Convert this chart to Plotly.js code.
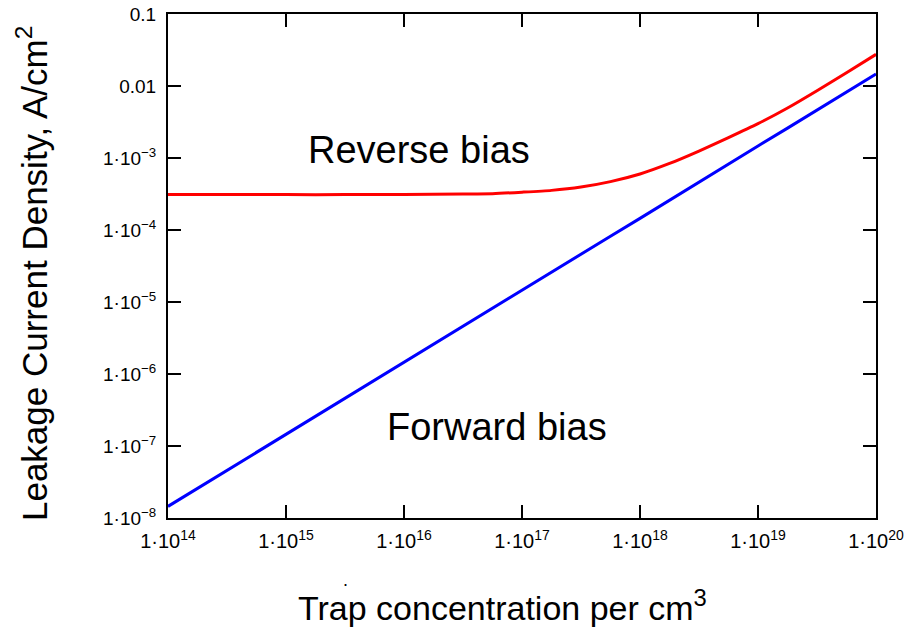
<!DOCTYPE html>
<html>
<head>
<meta charset="utf-8">
<script src="https://cdn.plot.ly/plotly-3.0.1.min.js"></script>
<style>html,body{margin:0;padding:0;background:#fff;}</style>
</head>
<body>
<div id="chart" style="width:905px;height:630px;"></div>
<script>
// Trap concentration (per cm^3)
const trapConc = [1e14, 3.16e14, 1e15, 3.16e15, 1e16, 3.16e16, 5.62e16,
                  1e17, 1.78e17, 3.16e17, 5.62e17, 1e18, 1.78e18, 3.16e18, 5.62e18,
                  1e19, 1.78e19, 3.16e19, 5.62e19, 1e20];
// Leakage current density (A/cm^2), reverse bias
const reverseJ = [3.1e-4, 3.1e-4, 3.1e-4, 3.1e-4, 3.12e-4, 3.15e-4, 3.2e-4,
                  3.35e-4, 3.55e-4, 3.95e-4, 4.7e-4, 6.0e-4, 8.4e-4, 1.25e-3, 1.92e-3,
                  3.0e-3, 4.95e-3, 8.6e-3, 1.53e-2, 2.75e-2];
// Leakage current density (A/cm^2), forward bias
const forwardJ = [1.45e-8, 4.6e-8, 1.45e-7, 4.6e-7, 1.45e-6, 4.6e-6, 8.2e-6,
                  1.45e-5, 2.6e-5, 4.6e-5, 8.2e-5, 1.45e-4, 2.6e-4, 4.6e-4, 8.2e-4,
                  1.47e-3, 2.6e-3, 4.65e-3, 8.3e-3, 1.47e-2];

const xTickVals = [1e14, 1e15, 1e16, 1e17, 1e18, 1e19, 1e20];
const xTickText = ["1·10<sup>14</sup>", "1·10<sup>15</sup>", "1·10<sup>16</sup>", "1·10<sup>17</sup>",
                   "1·10<sup>18</sup>", "1·10<sup>19</sup>", "1·10<sup>20</sup>"];
const yTickVals = [1e-8, 1e-7, 1e-6, 1e-5, 1e-4, 1e-3, 1e-2, 1e-1];
const yTickText = ["1·10<sup>−8</sup>", "1·10<sup>−7</sup>", "1·10<sup>−6</sup>", "1·10<sup>−5</sup>",
                   "1·10<sup>−4</sup>", "1·10<sup>−3</sup>", "0.01", "0.1"];

const FONT = "Liberation Sans, Arial, Helvetica, sans-serif";

const traces = [
  {x: trapConc, y: reverseJ, type: "scatter", mode: "lines", name: "Reverse bias",
   line: {color: "#ff0000", width: 3, shape: "spline", smoothing: 0.6}},
  {x: trapConc, y: forwardJ, type: "scatter", mode: "lines", name: "Forward bias",
   line: {color: "#0000ff", width: 3}}
];

const axisCommon = {
  type: "log", showgrid: false, zeroline: false,
  showline: true, linecolor: "#000", linewidth: 2, mirror: "ticks",
  ticks: "inside", ticklen: 13, tickwidth: 2, tickcolor: "#000",
  tickmode: "array"
};

const layout = {
  width: 905, height: 630,
  margin: {l: 168, r: 29, t: 14, b: 112},
  paper_bgcolor: "#fff", plot_bgcolor: "#fff",
  showlegend: false,
  font: {family: FONT, color: "#000"},
  xaxis: Object.assign({}, axisCommon, {
    range: [14, 20], tickvals: xTickVals, ticktext: xTickText,
    tickfont: {family: FONT, size: 20, color: "#000"},
    ticklabelstandoff: 4
  }),
  yaxis: Object.assign({}, axisCommon, {
    range: [-8, -1], tickvals: yTickVals, ticktext: yTickText,
    tickfont: {family: FONT, size: 19, color: "#000"},
    ticklabelstandoff: 6
  }),
  annotations: [
    {text: "Reverse bias", xref: "paper", yref: "paper", x: 0.3545, y: 0.730,
     xanchor: "center", yanchor: "middle", showarrow: false,
     font: {family: FONT, size: 38, color: "#000"}},
    {text: "Forward bias", xref: "paper", yref: "paper", x: 0.4647, y: 0.1806,
     xanchor: "center", yanchor: "middle", showarrow: false,
     font: {family: FONT, size: 38, color: "#000"}},
    {text: "Trap concentration per cm<sup>3</sup>", xref: "paper", yref: "paper", x: 0.4718, y: -0.174,
     xanchor: "center", yanchor: "middle", showarrow: false,
     font: {family: FONT, size: 34, color: "#000"}},
    {text: "Leakage Current Density, A/cm<sup>2</sup>", xref: "paper", yref: "paper", x: -0.1921, y: 0.486,
     xanchor: "center", yanchor: "middle", showarrow: false, textangle: -90,
     font: {family: FONT, size: 35, color: "#000"}},
    {text: ".", xref: "paper", yref: "paper", x: 0.2514, y: -0.123,
     xanchor: "center", yanchor: "middle", showarrow: false,
     font: {family: FONT, size: 18, color: "#000"}}
  ]
};

Plotly.newPlot("chart", traces, layout, {displayModeBar: false, staticPlot: true});
</script>
</body>
</html>
